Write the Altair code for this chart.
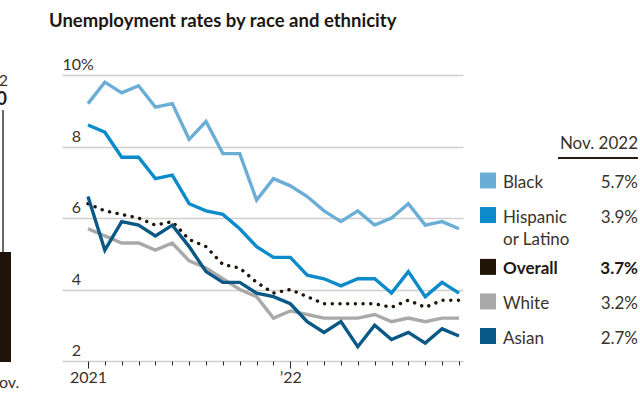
import altair as alt
import pandas as pd

# ---------------- data ----------------
month_idx = list(range(23))  # Jan 2021 .. Nov 2022
black = [9.2, 9.8, 9.5, 9.7, 9.1, 9.2, 8.2, 8.7, 7.8, 7.8, 6.5, 7.1,
         6.9, 6.6, 6.2, 5.9, 6.2, 5.8, 6.0, 6.4, 5.8, 5.9, 5.7]
hispanic = [8.6, 8.4, 7.7, 7.7, 7.1, 7.2, 6.4, 6.2, 6.1, 5.7, 5.2, 4.9,
            4.9, 4.4, 4.3, 4.1, 4.3, 4.3, 3.9, 4.5, 3.8, 4.2, 3.9]
overall = [6.4, 6.2, 6.1, 6.0, 5.8, 5.9, 5.4, 5.2, 4.7, 4.6, 4.2, 3.9,
           4.0, 3.8, 3.6, 3.6, 3.6, 3.6, 3.5, 3.7, 3.5, 3.7, 3.7]
white = [5.7, 5.5, 5.3, 5.3, 5.1, 5.3, 4.8, 4.6, 4.3, 4.0, 3.8, 3.2,
         3.4, 3.3, 3.2, 3.2, 3.2, 3.3, 3.1, 3.2, 3.1, 3.2, 3.2]
asian = [6.6, 5.1, 5.9, 5.8, 5.5, 5.8, 5.2, 4.5, 4.2, 4.2, 3.9, 3.8,
         3.6, 3.1, 2.8, 3.1, 2.4, 3.0, 2.6, 2.8, 2.5, 2.9, 2.7]

series_names = ["Black", "Hispanic or Latino", "Overall", "White", "Asian"]
series_labels = [["Black"], ["Hispanic", "or Latino"], ["Overall"], ["White"], ["Asian"]]
series_values = [black, hispanic, overall, white, asian]
series_colors = ["#6aaed6", "#0b8bca", "#211409", "#a9a9a9", "#0a5885"]

y_ticks = [2, 4, 6, 8, 10]
y_tick_labels = ["2", "4", "6", "8", "10"]
x_tick_labels = {0: "2021", 12: "\u201922"}

title_text = "Unemployment rates by race and ethnicity"
legend_header = "Nov. 2022"

TEXT = "#3a322b"
FONT = "Lato"

# ---------------- frames ----------------
frames = {}
for name, vals in zip(series_names, series_values):
    frames[name] = pd.DataFrame({"m": month_idx, "rate": vals})

xs = alt.Scale(domain=[-1.54, 22.24], nice=False, zero=False)
ys = alt.Scale(domain=[2, 10], nice=False, zero=False)

W, H = 401, 286

label_expr = " : ".join(
    [f"datum.value == {k} ? '{v}'" for k, v in x_tick_labels.items()]) + " : ''"

x_axis = alt.Axis(
    values=month_idx, labelExpr=label_expr, grid=False, domain=False,
    ticks=True, tickColor="#2b241e", tickWidth=1,
    tickSize={"condition": {"test": "datum.value % 12 === 0", "value": 7}, "value": 4},
    labelFont=FONT, labelFontSize=16, labelColor=TEXT, labelPadding=1,
    labelFlush=False, labelOverlap=False, title=None,
)
y_axis = alt.Axis(
    values=y_ticks, labels=False, ticks=False, domain=False, grid=True,
    gridColor="#cfcfcf", gridWidth=1.6, title=None,
)


def line_layer(name, color, grid=False, dotted=False):
    kw = dict(color=color, strokeWidth=3.4, strokeJoin="miter")
    if dotted:
        kw.update(strokeDash=[0.1, 7.6], strokeCap="round", strokeWidth=3.4)
    return alt.Chart(frames[name]).mark_line(**kw).encode(
        x=alt.X("m:Q", scale=xs, axis=x_axis),
        y=alt.Y("rate:Q", scale=ys, axis=y_axis if grid else None),
    )


col = dict(zip(series_names, series_colors))
layers = [
    line_layer("White", col["White"], grid=True),
    line_layer("Black", col["Black"]),
    line_layer("Hispanic or Latino", col["Hispanic or Latino"]),
    line_layer("Overall", col["Overall"], dotted=True),
    line_layer("Asian", col["Asian"]),
]

# y tick labels (numbers right-aligned, % hanging)
ylab_df = pd.DataFrame({"v": y_ticks, "t": y_tick_labels})
layers.append(
    alt.Chart(ylab_df).mark_text(align="right", baseline="alphabetic", dy=-5,
                                 font=FONT, fontSize=16, color=TEXT).encode(
        x=alt.value(19), y=alt.Y("v:Q", scale=ys, axis=None), text="t:N")
)
layers.append(
    alt.Chart(pd.DataFrame({"v": [max(y_ticks)], "t": ["%"]})).mark_text(
        align="left", baseline="alphabetic", dy=-5, font=FONT, fontSize=16,
        color=TEXT).encode(
        x=alt.value(19), y=alt.Y("v:Q", scale=ys, axis=None), text="t:N")
)

# title
layers.append(
    alt.Chart(pd.DataFrame({"t": [title_text]})).mark_text(
        align="left", baseline="alphabetic", font=FONT,
        fontSize=18.5, fontWeight="bold", color="#1e1712").encode(
        x=alt.value(-13), y=alt.value(-48), text="t:N")
)

# legend table
slots = []
s = 0.0
for lab in series_labels:
    slots.append(s)
    s += 1 + 0.5 * (len(lab) - 1)
leg_df = pd.DataFrame({
    "series": series_names,
    "slot": slots,
    "label": series_labels,
    "val": [f"{v[-1]:.1f}%" for v in series_values],
    "bold": ["bold" if n == "Overall" else "normal" for n in series_names],
})
slot_scale = alt.Scale(domain=[0, max(slots)], range=[105.5, 261], nice=False, zero=False)
color_scale = alt.Scale(domain=series_names, range=series_colors)

leg_base = alt.Chart(leg_df)
layers.append(
    leg_base.mark_square(size=256, opacity=1, filled=True).encode(
        x=alt.value(426), y=alt.Y("slot:Q", scale=slot_scale, axis=None),
        color=alt.Color("series:N", scale=color_scale, legend=None))
)
for weight in ["normal", "bold"]:
    sub = leg_base.transform_filter(alt.datum.bold == weight)
    layers.append(
        sub.mark_text(align="left", baseline="alphabetic", dy=7.5, font=FONT,
                      fontSize=17, fontWeight=weight, color="#1e1712" if weight == "bold" else TEXT,
                      lineHeight=22).encode(
            x=alt.value(441), y=alt.Y("slot:Q", scale=slot_scale, axis=None),
            text="label")
    )
    layers.append(
        sub.mark_text(align="right", baseline="alphabetic", dy=7.5, font=FONT,
                      fontSize=17, fontWeight=weight, color="#1e1712" if weight == "bold" else TEXT).encode(
            x=alt.value(576), y=alt.Y("slot:Q", scale=slot_scale, axis=None),
            text="val:N")
    )

layers.append(
    alt.Chart(pd.DataFrame({"t": [legend_header]})).mark_text(
        align="right", baseline="alphabetic", font=FONT, fontSize=17,
        color=TEXT).encode(x=alt.value(576), y=alt.value(74), text="t:N")
)
layers.append(
    alt.Chart(pd.DataFrame({"t": [legend_header]})).mark_rule(
        color="#2b1d12", strokeWidth=2).encode(
        x=alt.value(496), x2=alt.value(576), y=alt.value(83))
)

# clipped fragment of the neighbouring chart at the far left
frag = pd.DataFrame({"t": ["x"]})
layers.append(alt.Chart(frag).mark_rect(color="#1f140c").encode(
    x=alt.value(-62), x2=alt.value(-51), y=alt.value(177), y2=alt.value(287)))
layers.append(alt.Chart(frag).mark_rule(color="#1f140c", strokeWidth=1.3).encode(
    x=alt.value(-59), y=alt.value(35), y2=alt.value(177)))
layers.append(alt.Chart(pd.DataFrame({"t": ["2"]})).mark_text(
    align="right", baseline="alphabetic", font=FONT, fontSize=16, color=TEXT).encode(
    x=alt.value(-54), y=alt.value(11), text="t:N"))
layers.append(alt.Chart(pd.DataFrame({"t": ["0"]})).mark_text(
    align="right", baseline="alphabetic", font=FONT, fontSize=18, fontWeight="bold",
    color="#1e1712").encode(x=alt.value(-55), y=alt.value(30), text="t:N"))
layers.append(alt.Chart(pd.DataFrame({"t": ["Nov."]})).mark_text(
    align="left", baseline="alphabetic", font=FONT, fontSize=16, color=TEXT).encode(
    x=alt.value(-75), y=alt.value(313), text="t:N"))

chart = alt.layer(*layers).resolve_scale(y="independent").properties(
    width=W, height=H,
    autosize=alt.AutoSizeParams(type="none"),
    padding={"left": 62, "top": 75, "right": 177, "bottom": 50},
    background="white",
).configure_view(stroke=None)

chart.save("out.html", embed_options={"renderer": "svg", "actions": False})
